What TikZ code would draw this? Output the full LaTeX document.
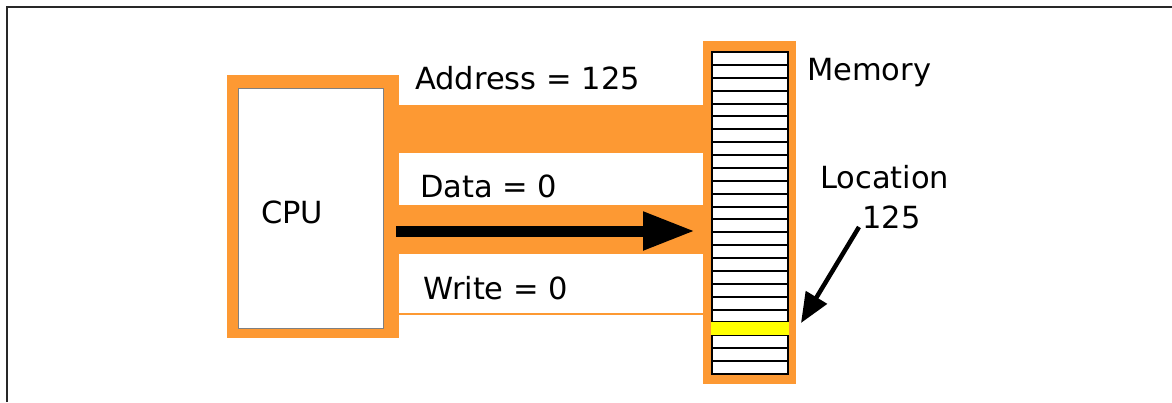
\documentclass[tikz,border=0pt]{standalone}
\usepackage{fontspec}
\setmainfont{DejaVu Sans}
\usetikzlibrary{arrows.meta}
\definecolor{busorange}{RGB}{253,153,51}
\definecolor{cellyellow}{RGB}{255,255,0}
\definecolor{framegray}{RGB}{40,40,40}
\tikzset{
  label text/.style={inner sep=0pt, anchor=base west, font=\fontsize{30.5}{36}\selectfont},
  orange fill/.style={fill=busorange, draw=none},
  mem cell/.style={draw=black, line width=2pt, fill=white},
}
\begin{document}
\begin{tikzpicture}[x=1pt,y=-1pt]
\useasboundingbox (0,0) rectangle (1172,402);
% open frame along the top and left
\draw[framegray, line width=2pt] (7,402) -- (7,7) -- (1172,7);

% CPU block
\node[orange fill, minimum width=172pt, minimum height=263pt, inner sep=0pt, anchor=north west] (cpuframe) at (227,75) {};
\node[draw=gray, line width=1.2pt, fill=white, minimum width=145pt, minimum height=240pt, inner sep=0pt, anchor=north west] (cpu) at (238,88) {};
\node[label text] (cputext) at (261,223) {CPU};

% memory block
\node[orange fill, minimum width=93pt, minimum height=343pt, inner sep=0pt, anchor=north west] (memframe) at (703,41) {};
\foreach \i in {0,...,24}{
  \draw[mem cell] (712,{52+\i*12.88}) rectangle (788,{52+(\i+1)*12.88});
}
\fill[cellyellow] (711,{52+21*12.88}) rectangle (789,{52+22*12.88});
\node[label text] (memtext) at (807,80) {Memory};

% buses between CPU and memory
\fill[busorange] (399,105) rectangle (704,153);
\fill[busorange] (399,205) rectangle (704,254);
\draw[busorange, line width=2pt] (399,314) -- (704,314);

\node[label text] (addr) at (415,89) {Address = 125};
\node[label text] (data) at (420,197) {Data = 0};
\node[label text] (write) at (423,299) {Write = 0};

% data flow arrow
\coordinate (dstart) at (396,231);
\coordinate (dend) at (695,231);
\draw[line width=11pt, -{Triangle[length=52pt, width=36pt]}] (dstart) -- (dend);

% pointer to location 125
\node[label text] (loc) at (820,188) {Location};
\node[label text] (locnum) at (862,228) {125};
\coordinate (locstart) at (859,227);
\coordinate (loctip) at (801,323);
\draw[line width=4.5pt, -{Triangle[length=30pt, width=24pt]}] (locstart) -- (loctip);
\end{tikzpicture}
\end{document}
